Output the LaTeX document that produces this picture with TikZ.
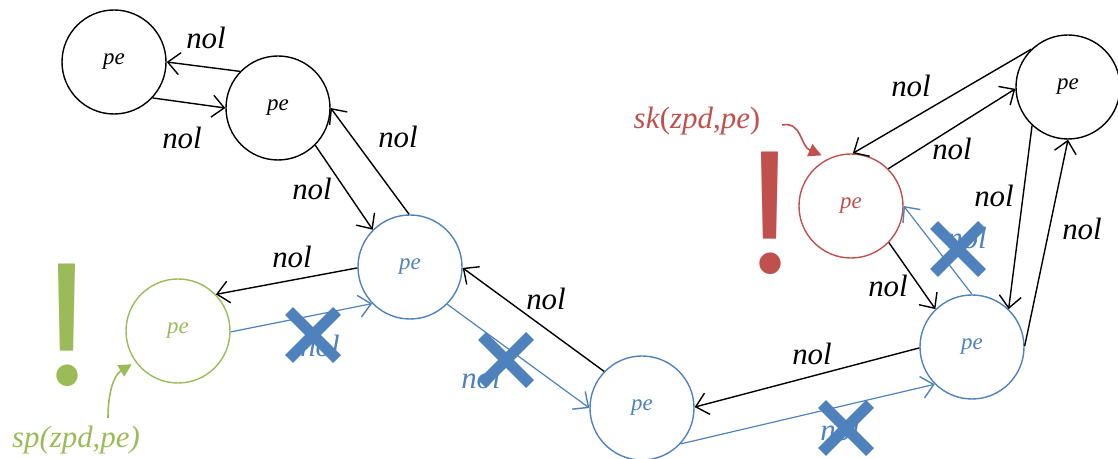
\documentclass[tikz,border=0pt]{standalone}
\usepackage{fontspec}
\setmainfont{Liberation Serif}
\newfontfamily\bangfont{Poppins}
\usetikzlibrary{arrows.meta}
\definecolor{accblue}{HTML}{4F81BD}
\definecolor{accred}{HTML}{C0504D}
\definecolor{accgreen}{HTML}{9BBB59}

\begin{document}
\begin{tikzpicture}[x=1bp,y=-1bp,
  state/.style={circle,draw,line width=1.4bp,minimum size=104bp,inner sep=0pt,
    text height=0.6em,text depth=0.1em,
    font=\fontsize{23}{23}\selectfont\itshape},
  link/.style={line width=1.4bp,-{Straight Barb[length=12bp,width=22bp,line width=1.4bp]}},
  blink/.style={link,accblue,line width=1.2bp},
  lbl/.style={font=\fontsize{31}{31}\selectfont\itshape,inner sep=0pt},
  blbl/.style={lbl,text=accblue},
  pics/xmark/.style={code={\draw[accblue,line width=11bp] (-24,-24) -- (24,24) (-24,24) -- (24,-24);}},
  bang/.style={font=\bangfont\fontsize{175}{175}\selectfont,inner sep=0pt,
    anchor=base,text depth=0pt},
  note/.style={line width=1.6bp,-{Triangle[length=13bp,width=13bp]}}
]
\useasboundingbox (0,0) rectangle (1118,459);

% states
\node[state] (A) at (114,62) {pe};
\node[state] (B) at (278,108) {pe};
\node[state,accblue,text=accblue] (C) at (410,267) {pe};
\node[state,accgreen,text=accgreen] (D) at (178,331) {pe};
\node[state,accblue,text=accblue] (E) at (642,408) {pe};
\node[state,accred,text=accred] (F) at (851,206) {pe};
\node[state] (G) at (1068,87) {pe};
\node[state,accblue,text=accblue] (H) at (972,347) {pe};

% black transitions
\draw[link] (B.136) -- (A.0);
\draw[link] (A.-43) -- (B.180);
\draw[link] (B.-45) -- (C.135);
\draw[link] (C.91) -- (B.0);
\draw[link] (C.181) -- (D.44);
\draw[link] (E.136) -- (C.-1);
\draw[link] (H.181) -- (E.1);
\draw[link] (F.-44) -- (H.134);
\draw[link] (G.134) -- (F.88);
\draw[link] (F.45) -- (G.182);
\draw[link] (G.227) -- (H.46);
\draw[link] (H.1) -- (G.-90);

% blue transitions
\draw[blink] (D.-1) -- (C.224);
\draw[blink] (C.-45) -- (E.180);
\draw[blink] (E.-43) -- (H.225);
\draw[blink] (H.90) -- (F.0);

% labels
\node[lbl] (l1) at (206,38) {nol};
\node[lbl] (l2) at (182,138) {nol};
\node[lbl] (l3) at (312,189) {nol};
\node[lbl] (l4) at (398,137) {nol};
\node[lbl] (l5) at (292,257) {nol};
\node[lbl] (l7) at (546,299) {nol};
\node[lbl] (l9) at (812,354) {nol};
\node[lbl] (l12) at (888,286) {nol};
\node[lbl] (l13) at (911,86) {nol};
\node[lbl] (l14) at (952,149) {nol};
\node[lbl] (l15) at (994,196) {nol};
\node[lbl] (l16) at (1082,229) {nol};
\node[blbl] (l6) at (320,346) {nol};
\node[blbl] (l8) at (481,378) {nol};
\node[blbl] (l10) at (840,430) {nol};
\node[blbl] (l11) at (967,238) {nol};

% blocked transitions
\pic at (313,335) {xmark};
\pic at (506,360) {xmark};
\pic at (846,428) {xmark};
\pic at (958,249) {xmark};

% warnings
\node[bang,text=accgreen] (gbang) at (67,386) {!};
\node[bang,text=accred] (rbang) at (770,274) {!};

\node[font=\fontsize{31}{31}\selectfont\itshape,text=accgreen,inner sep=0pt] (sp) at (76,440) {sp(zpd,pe)};
\node[font=\fontsize{31}{31}\selectfont,text=accred,inner sep=0pt] (sk) at (697,121)
  {\textit{sk}(\textit{zpd},\textit{pe})};

\coordinate (spfrom) at (108,418);
\coordinate (skfrom) at (782,125);
\draw[note,accgreen] (spfrom) .. controls (108,392) and (114,375) .. ([shift={(-3,3)}]D.215);
\draw[note,accred] (skfrom) .. controls (802,121) and (800,146) .. ([shift={(-3,-5)}]F.120);
\end{tikzpicture}
\end{document}
